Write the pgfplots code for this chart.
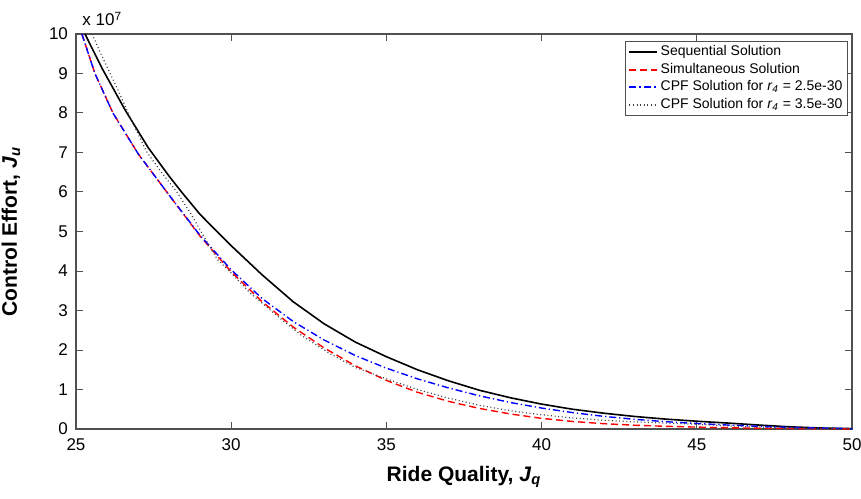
\documentclass[border=0pt]{standalone}
\usepackage{fontspec}
\setmainfont{Liberation Sans}
\usepackage{pgfplots}
\pgfplotsset{compat=1.18}
\definecolor{framegray}{HTML}{505050}

\begin{document}
\begin{tikzpicture}
% picture size: 861x498 px at 0.5pt per px, axis box at (0,0)
\useasboundingbox (-38pt,-34.5pt) rectangle (392.5pt,214.5pt);
\begin{axis}[
    name=ax,
    scale only axis,
    width=388pt, height=197.5pt,
    xmin=25, xmax=50, ymin=0, ymax=10,
    xtick={25,30,...,50},
    ytick={0,1,...,10},
    tick align=inside,
    major tick length=3.5pt,
    axis line style={color=framegray, line width=0.6pt},
    tick style={color=framegray, line width=0.5pt},
    /pgf/number format/assume math mode=true,
    ticklabel style={font=\fontsize{8.5}{10}\selectfont},
    xticklabel style={yshift=-1.5pt},
    yticklabel style={xshift=-0.5pt},
    xlabel={\textbf{Ride Quality, \textit{J}\textsubscript{\textit{q}}}},
    ylabel={\textbf{Control Effort, \textit{J}\textsubscript{\textit{u}}}},
    label style={font=\fontsize{10.5}{12}\selectfont},
    xlabel style={at={(axis description cs:0.5,-0.122)}, anchor=center},
    ylabel style={at={(axis description cs:-0.0838,0.5)}, anchor=center},
    legend style={at={(1,1)}, anchor=north east, xshift=-2pt, yshift=-3.5pt,
        font=\fontsize{7}{9.5}\selectfont, inner xsep=1.5pt, inner ysep=1pt,
        row sep=0pt, draw=framegray, nodes={inner sep=1.1pt, text depth=0.15em}},
    legend cell align=left,
]
\addplot[draw=black, line width=0.8pt,
    legend image code/.code={\draw[black, line width=0.9pt] (0pt,0pt) -- (14pt,0pt);}] coordinates {
(25.29,10) (25.84,9.13) (26.58,8.08) (27.32,7.13) (28,6.4) (28.4,6.0) (29,5.43)
(30,4.64) (31,3.9) (32,3.22) (33,2.66) (34,2.2) (35,1.83) (36,1.5) (37,1.22)
(38,0.98) (39,0.79) (40,0.63) (41,0.5) (42,0.4) (43,0.317) (44,0.25) (45,0.197)
(46,0.15) (47,0.1) (48,0.055) (49,0.025) (50,0.01)
};
\addlegendentry{Sequential Solution}
\addplot[draw=red, line width=0.7pt, dash pattern=on 3.5pt off 2pt,
    legend image code/.code={\draw[red, line width=1pt, dash pattern=on 3.5pt off 2pt] (0pt,0pt) -- (14pt,0pt);}] coordinates {
(25.19,10) (25.61,9) (26.19,8) (27,6.97) (28,5.92) (29,4.88) (30,3.98)
(31,3.22) (32,2.58) (33,2.05) (34,1.6) (35,1.23) (36,0.93) (37,0.7) (38,0.52)
(39,0.38) (40,0.27) (41,0.19) (42,0.135) (43,0.095) (44,0.068) (45,0.048)
(46,0.032) (47,0.02) (48,0.012) (49,0.007) (50,0.004)
};
\addlegendentry{Simultaneous Solution}
\addplot[draw=blue, line width=0.7pt, dash pattern=on 3.5pt off 1.5pt on 0.6pt off 1.5pt,
    legend image code/.code={\draw[blue, line width=1pt, dash pattern=on 3.5pt off 1.5pt on 0.8pt off 1.5pt] (0pt,0pt) -- (14pt,0pt);}] coordinates {
(25.19,10) (25.61,9) (26.19,8) (27,6.97) (28,5.92) (29,4.9) (30,4.03)
(31,3.3) (32,2.72) (33,2.25) (34,1.86) (35,1.54) (36,1.27) (37,1.04) (38,0.84)
(39,0.67) (40,0.53) (41,0.415) (42,0.32) (43,0.245) (44,0.185) (45,0.14)
(46,0.1) (47,0.068) (48,0.042) (49,0.022) (50,0.01)
};
\addlegendentry{CPF Solution for \textit{r}\textsubscript{\textit{4}} = 2.5e-30}
\addplot[draw=black!75, line width=0.6pt, dash pattern=on 0.5pt off 1.3pt,
    legend image code/.code={\draw[black!75, line width=0.7pt, dash pattern=on 0.5pt off 1.3pt] (0pt,0pt) -- (14pt,0pt);}] coordinates {
(25.52,10) (25.8,9.5) (26.1,9) (26.4,8.5) (26.68,8) (26.98,7.5) (27.29,7)
(27.75,6.5) (28.25,6) (28.7,5.45) (29.1,4.9) (29.55,4.3) (30,3.95) (30.6,3.45)
(31.5,2.85) (32.3,2.35) (33.2,1.9) (34,1.56) (35,1.27) (36,1.0) (37,0.78)
(38,0.6) (39,0.46) (40,0.36) (41,0.28) (42,0.22) (43,0.18) (44,0.15) (45,0.12)
(46,0.08) (47,0.05) (48,0.03) (49,0.015) (50,0.008)
};
\addlegendentry{CPF Solution for \textit{r}\textsubscript{\textit{4}} = 3.5e-30}
\end{axis}
\node[anchor=base west, font=\fontsize{8.5}{10}\selectfont, inner sep=0pt]
    at (ax.north west) [xshift=3pt, yshift=4pt] {x 10\textsuperscript{7}};
\end{tikzpicture}
\end{document}
